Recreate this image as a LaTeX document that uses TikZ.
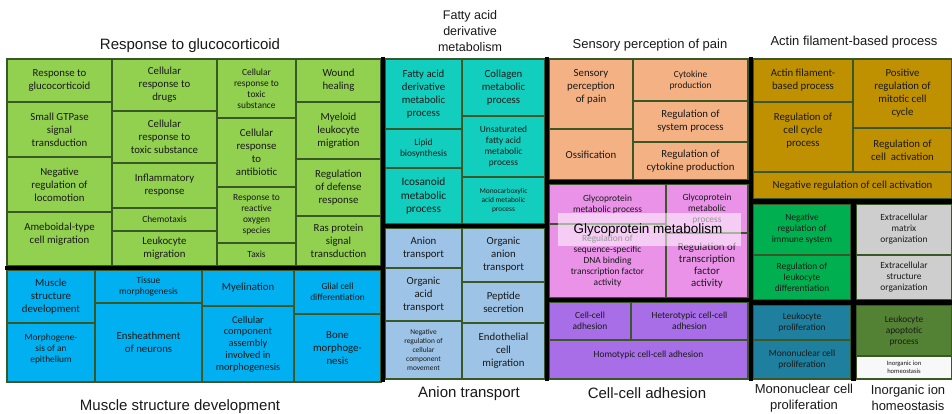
\documentclass[tikz,border=0pt]{standalone}
\usepackage{fontspec}
\setmainfont{Carlito}
\newfontfamily\ttlfont{Liberation Sans}
\definecolor{cgreen}{RGB}{146,208,80}
\definecolor{cblue}{RGB}{0,176,240}
\definecolor{cteal}{RGB}{18,206,190}
\definecolor{canion}{RGB}{157,195,230}
\definecolor{corange}{RGB}{244,177,131}
\definecolor{cpink}{RGB}{234,146,232}
\definecolor{cpurple}{RGB}{168,110,232}
\definecolor{cgold}{RGB}{191,144,0}
\definecolor{cgreenb}{RGB}{0,176,80}
\definecolor{cgrey}{RGB}{206,206,206}
\definecolor{cdteal}{RGB}{30,128,158}
\definecolor{cdgreen}{RGB}{84,130,53}
\definecolor{cwhite}{RGB}{248,248,248}
\definecolor{cbord}{RGB}{58,88,38}
\definecolor{ctext}{RGB}{25,25,25}
\newcommand\szA{\fontsize{10.8}{13}\selectfont}
\newcommand\szB{\fontsize{9.4}{11}\selectfont}
\newcommand\szC{\fontsize{7.4}{8.8}\selectfont}
\newcommand\tmcell[8]{%
  \path[cellbox, fill=#6] (#2,#3) rectangle (#4,#5);
  \node[celltext, #7] (#1) at ({(#2+#4)/2},{(#3+#5)/2}) {#8};}
\tikzset{
  cellbox/.style={draw=cbord, line width=1.4pt},
  celltext/.style={align=center, inner sep=0pt, text=ctext},
  sepline/.style={draw=black, line width=4.5pt},
  ttl/.style={align=center, inner sep=0pt, text=ctext},
}
\begin{document}
\begin{tikzpicture}[x=1pt,y=-1pt]
\useasboundingbox[fill=white] (0,0) rectangle (952,414);
% ---- green group
\tmcell{g1}{7}{59}{112}{102}{cgreen}{font=\szA}{Response to\\glucocorticoid}
\tmcell{g2}{7}{102}{112}{157}{cgreen}{font=\szA}{Small GTPase\\signal\\transduction}
\tmcell{g3}{7}{157}{112}{212}{cgreen}{font=\szA}{Negative\\regulation of\\locomotion}
\tmcell{g4}{7}{212}{112}{266}{cgreen}{font=\szA, yshift=5}{Ameboidal-type\\cell migration}
\tmcell{g5}{112}{59}{217}{111}{cgreen}{font=\szA}{Cellular\\response to\\drugs}
\tmcell{g6}{112}{111}{217}{163}{cgreen}{font=\szA}{Cellular\\response to\\toxic substance}
\tmcell{g7}{112}{163}{217}{208}{cgreen}{font=\szA}{Inflammatory\\response}
\tmcell{g8}{112}{208}{217}{231}{cgreen}{font=\szB}{Chemotaxis}
\tmcell{g9}{112}{231}{217}{266}{cgreen}{font=\szA}{Leukocyte\\migration}
\tmcell{g10}{217}{59}{296}{118}{cgreen}{font=\szB}{Cellular\\response to\\toxic\\substance}
\tmcell{g11}{217}{118}{296}{187}{cgreen}{font=\szA}{Cellular\\response\\to\\antibiotic}
\tmcell{g12}{217}{187}{296}{243}{cgreen}{font=\szB}{Response to\\reactive\\oxygen\\species}
\tmcell{g13}{217}{243}{296}{266}{cgreen}{font=\szB}{Taxis}
\tmcell{g14}{296}{59}{381}{102}{cgreen}{font=\szA}{Wound\\healing}
\tmcell{g15}{296}{102}{381}{159}{cgreen}{font=\szA}{Myeloid\\leukocyte\\migration}
\tmcell{g16}{296}{159}{381}{216}{cgreen}{font=\szA}{Regulation\\of defense\\response}
\tmcell{g17}{296}{216}{381}{266}{cgreen}{font=\szA}{Ras protein\\signal\\transduction}
% ---- blue group
\tmcell{b1}{7}{270}{95}{323}{cblue}{font=\szA}{Muscle\\structure\\development}
\tmcell{b2}{7}{323}{95}{382}{cblue}{font=\szB, yshift=4}{Morphogene-\\sis of an\\epithelium}
\tmcell{b3}{95}{270}{202}{303}{cblue}{font=\szB}{Tissue\\morphogenesis}
\tmcell{b4}{95}{303}{202}{382}{cblue}{font=\szA}{Ensheathment\\of neurons}
\tmcell{b5}{202}{270}{294}{306}{cblue}{font=\szA}{Myelination}
\tmcell{b6}{202}{306}{294}{382}{cblue}{font=\fontsize{10.3}{11.7}\selectfont}{Cellular\\component\\assembly\\involved in\\morphogenesis}
\tmcell{b7}{294}{270}{381}{314}{cblue}{font=\szB}{Glial cell\\differentiation}
\tmcell{b8}{294}{314}{381}{382}{cblue}{font=\szA}{Bone\\morphoge-\\nesis}
% ---- teal group
\tmcell{t1}{385}{59}{462}{129}{cteal}{font=\szA}{Fatty acid\\derivative\\metabolic\\process}
\tmcell{t2}{385}{129}{462}{168}{cteal}{font=\szB}{Lipid\\biosynthesis}
\tmcell{t3}{385}{168}{462}{224}{cteal}{font=\fontsize{11.3}{13.6}\selectfont}{Icosanoid\\metabolic\\process}
\tmcell{t4}{462}{59}{545}{116}{cteal}{font=\szA}{Collagen\\metabolic\\process}
\tmcell{t5}{462}{116}{545}{177}{cteal}{font=\szB}{Unsaturated\\fatty acid\\metabolic\\process}
\tmcell{t6}{462}{177}{545}{224}{cteal}{font=\szC}{Monocarboxylic\\acid metabolic\\process}
% ---- anion group
\tmcell{a1}{385}{228}{462}{268}{canion}{font=\szA}{Anion\\transport}
\tmcell{a2}{385}{268}{462}{321}{canion}{font=\szA}{Organic\\acid\\transport}
\tmcell{a3}{385}{321}{462}{379}{canion}{font=\szC}{Negative\\regulation of\\cellular\\component\\movement}
\tmcell{a4}{462}{228}{545}{282}{canion}{font=\szA}{Organic\\anion\\transport}
\tmcell{a5}{462}{282}{545}{323}{canion}{font=\szA}{Peptide\\secretion}
\tmcell{a6}{462}{323}{545}{379}{canion}{font=\szA}{Endothelial\\cell\\migration}
% ---- orange group
\tmcell{o1}{549}{59}{633}{129}{corange}{font=\szA, yshift=7}{Sensory\\perception\\of pain}
\tmcell{o2}{549}{129}{633}{180}{corange}{font=\szA}{Ossification}
\tmcell{o3}{633}{59}{748}{101}{corange}{font=\szB}{Cytokine\\production}
\tmcell{o4}{633}{101}{748}{142}{corange}{font=\szA}{Regulation of\\system process}
\tmcell{o5}{633}{142}{748}{180}{corange}{font=\szA}{Regulation of\\cytokine production}
% ---- pink group
\tmcell{p1}{549}{184}{666}{224}{cpink}{font=\szB}{Glycoprotein\\metabolic process}
\tmcell{p2}{549}{224}{666}{298}{cpink}{font=\szB}{Regulation of\\sequence-specific\\DNA binding\\transcription factor\\activity}
\tmcell{p3}{666}{184}{748}{233}{cpink}{font=\szB}{Glycoprotein\\metabolic\\process}
\tmcell{p4}{666}{233}{748}{298}{cpink}{font=\fontsize{10.8}{12}\selectfont}{Regulation of\\transcription\\factor\\activity}
\path[fill=white, fill opacity=0.55] (558,213) rectangle (741,246);
\node[ttl, font=\ttlfont\fontsize{13.5}{16}\selectfont, text=black] (glyco) at (648,230) {Glycoprotein metabolism};
% ---- purple group
\tmcell{u1}{549}{302}{631}{340}{cpurple}{font=\szB}{Cell-cell\\adhesion}
\tmcell{u2}{631}{302}{748}{340}{cpurple}{font=\szB}{Heterotypic cell-cell\\adhesion}
\tmcell{u3}{549}{340}{748}{379}{cpurple}{font=\szB, yshift=5}{Homotypic cell-cell adhesion}
% ---- gold group
\tmcell{d1}{753}{59}{853}{102}{cgold}{font=\szA}{Actin filament-\\based process}
\tmcell{d2}{753}{102}{853}{172}{cgold}{font=\szA, yshift=6}{Regulation of\\cell cycle\\process}
\tmcell{d3}{853}{59}{952}{128}{cgold}{font=\szA}{Positive\\regulation of\\mitotic cell\\cycle}
\tmcell{d4}{853}{128}{952}{172}{cgold}{font=\szA}{Regulation of\\cell\ \ activation}
\tmcell{d5}{753}{172}{952}{199}{cgold}{font=\szA}{Negative regulation of cell activation}
% ---- small groups
\tmcell{e1}{753}{204}{851}{255}{cgreenb}{font=\szB}{Negative\\regulation of\\immune system}
\tmcell{e2}{753}{255}{851}{300}{cgreenb}{font=\szB}{Regulation of\\leukocyte\\differentiation}
\tmcell{y1}{856}{204}{952}{255}{cgrey}{font=\szB}{Extracellular\\matrix\\organization}
\tmcell{y2}{856}{255}{952}{300}{cgrey}{font=\szB}{Extracellular\\structure\\organization}
\tmcell{k1}{753}{305}{851}{340}{cdteal}{font=\szB}{Leukocyte\\proliferation}
\tmcell{k2}{753}{340}{851}{379}{cdteal}{font=\szB}{Mononuclear cell\\proliferation}
\tmcell{m1}{856}{305}{952}{356}{cdgreen}{font=\szB}{Leukocyte\\apoptotic\\process}
\tmcell{w1}{856}{356}{952}{379}{cwhite}{font=\fontsize{6.6}{7.6}\selectfont}{Inorganic ion\\homeostasis}
% ---- black separators
\path[sepline] (5,268) -- (383,268);
\path[sepline] (383,57.5) -- (383,382);
\path[sepline] (383,226) -- (547,226);
\path[sepline] (547,57.5) -- (547,381);
\path[sepline] (547,182) -- (751,182);
\path[sepline] (547,300) -- (751,300);
\path[sepline] (751,57.5) -- (751,381);
\path[sepline] (751,201.5) -- (952,201.5);
\path[sepline] (853.5,201.5) -- (853.5,381);
\path[sepline] (751,302.5) -- (952,302.5);
% ---- group titles
\node[ttl, font=\ttlfont\fontsize{15}{18}\selectfont] (tA) at (190,46) {Response to glucocorticoid};
\node[ttl, font=\ttlfont\fontsize{12.5}{16}\selectfont] (tB) at (470,31) {Fatty acid\\derivative\\metabolism};
\node[ttl, font=\ttlfont\fontsize{13}{16}\selectfont] (tC) at (650,45) {Sensory perception of pain};
\node[ttl, font=\ttlfont\fontsize{13}{16}\selectfont] (tD) at (854,42) {Actin filament-based process};
\node[ttl, font=\ttlfont\fontsize{15}{18}\selectfont] (tE) at (180,407) {Muscle structure development};
\node[ttl, font=\ttlfont\fontsize{15}{18}\selectfont] (tF) at (469,394) {Anion transport};
\node[ttl, font=\ttlfont\fontsize{15}{18}\selectfont] (tG) at (647,393) {Cell-cell adhesion};
\node[ttl, font=\ttlfont\fontsize{13}{16}\selectfont] (tH) at (804,398) {Mononuclear cell\\proliferation};
\node[ttl, font=\ttlfont\fontsize{13}{16}\selectfont] (tI) at (908,398) {Inorganic ion\\homeostasis};
\end{tikzpicture}
\end{document}
